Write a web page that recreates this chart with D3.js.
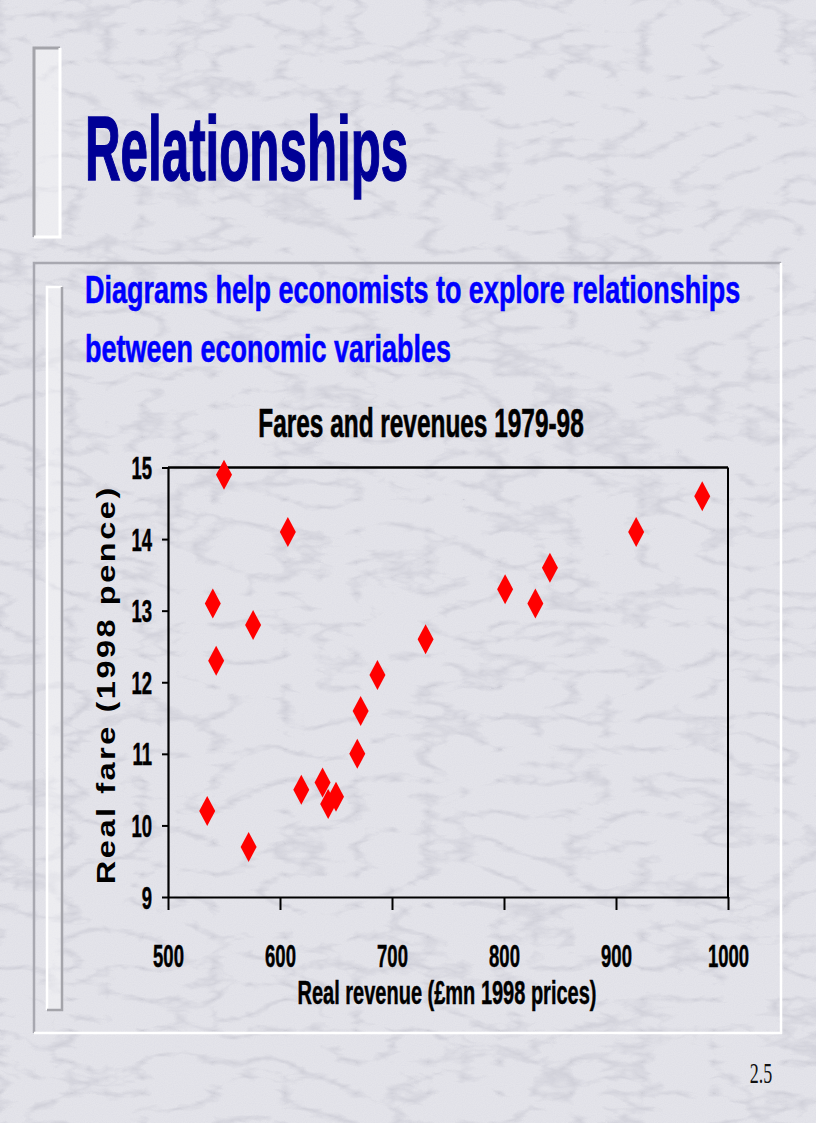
<!DOCTYPE html>
<html>
<head>
<meta charset="utf-8">
<script src="https://cdn.jsdelivr.net/npm/d3@7"></script>
<style>
  html, body { margin: 0; padding: 0; background: #e4e4ea; }
  svg { display: block; }
</style>
</head>
<body>
<svg id="slide" width="816" height="1123"></svg>
<script>
// ---- data ----
const revenue = [550, 607, 540, 576, 543, 687, 672, 669, 619, 638, 643, 650, 535, 572, 977, 918, 841, 801, 828, 730];
const fare    = [14.9, 14.1, 13.1, 12.8, 12.3, 12.1, 11.6, 11.0, 10.5, 10.6, 10.3, 10.4, 10.2, 9.7, 14.6, 14.1, 13.6, 13.3, 13.1, 12.6];
const xTicks = [500, 600, 700, 800, 900, 1000];
const yTicks = [9, 10, 11, 12, 13, 14, 15];
const titleText = "Relationships";
const subtitleLines = ["Diagrams help economists to explore relationships", "between economic variables"];
const chartTitle = "Fares and revenues 1979-98";
const xLabel = "Real revenue (£mn 1998 prices)";
const yLabel = "Real fare (1998 pence)";
const pageNo = "2.5";

const svg = d3.select("#slide");
const FONT = "'Liberation Sans', Arial, sans-serif";

// ---- marble background ----
const defs = svg.append("defs");
const f = defs.append("filter").attr("id", "marble")
  .attr("x", 0).attr("y", 0).attr("width", "100%").attr("height", "100%");
f.append("feTurbulence").attr("type", "turbulence")
  .attr("baseFrequency", "0.014 0.032").attr("numOctaves", 4).attr("seed", 7).attr("result", "t");
f.append("feColorMatrix").attr("in", "t").attr("type", "matrix")
  .attr("values", "0 0 0 0 0.52  0 0 0 0 0.52  0 0 0 0 0.58  -2.4 0 0 0 0.62");
const f2 = defs.append("filter").attr("id", "grain")
  .attr("x", 0).attr("y", 0).attr("width", "100%").attr("height", "100%");
f2.append("feTurbulence").attr("type", "fractalNoise")
  .attr("baseFrequency", "0.9").attr("numOctaves", 1).attr("seed", 2).attr("result", "n");
f2.append("feColorMatrix").attr("in", "n").attr("type", "matrix")
  .attr("values", "0 0 0 0 0.6  0 0 0 0 0.6  0 0 0 0 0.7  0.9 0 0 0 -0.3");

svg.append("rect").attr("width", 816).attr("height", 1123).attr("fill", "#e4e4ea");
svg.append("rect").attr("width", 816).attr("height", 1123).attr("filter", "url(#marble)").attr("opacity", 0.9);
svg.append("rect").attr("width", 816).attr("height", 1123).attr("filter", "url(#grain)").attr("opacity", 0.45);

// ---- bevel frames ----
function bevel(x0, y0, x1, y1, tl, br, fill, w) {
  const g = svg.append("g");
  if (fill) g.append("rect").attr("x", x0).attr("y", y0).attr("width", x1 - x0).attr("height", y1 - y0).attr("fill", fill);
  g.append("path").attr("d", `M${x0},${y1}L${x0},${y0}L${x1},${y0}`).attr("fill", "none").attr("stroke", tl).attr("stroke-width", w);
  g.append("path").attr("d", `M${x1},${y0}L${x1},${y1}L${x0},${y1}`).attr("fill", "none").attr("stroke", br).attr("stroke-width", w);
}
bevel(34, 48, 60, 237, "#a4a4aa", "#ffffff", "rgba(255,255,255,0.35)", 3);
bevel(34, 263, 781, 1033, "#a8a8b0", "#ffffff", null, 2.5);
bevel(47, 287, 62, 1010, "#ffffff", "#a4a4aa", "rgba(255,255,255,0.35)", 2.5);

// ---- stretched text helper ----
function stext(parent, txt, x, y, fs, ky, anchor, fill, family, weight, sw) {
  const t = parent.append("text")
    .attr("transform", `translate(${x},${y}) scale(1,${ky})`)
    .attr("font-family", family || FONT)
    .attr("font-weight", weight || "bold")
    .attr("font-size", fs)
    .attr("text-anchor", anchor || "start")
    .attr("fill", fill || "#000")
    .text(txt);
  if (sw) t.attr("stroke", fill || "#000").attr("stroke-width", sw);
  return t;
}

stext(svg, titleText, 85, 180, 49.3, 1.84, "start", "#000096", null, null, 0.8);
subtitleLines.forEach((s, i) => stext(svg, s, 85, 303 + i * 59, 27, 1.46, "start", "#0000ff", null, null, 0.4));
stext(svg, chartTitle, 421, 437, 24.4, 1.68, "middle", "#000", null, null, 0.4);

// ---- chart ----
const x = d3.scaleLinear().domain([500, 1000]).range([168, 728]);
const y = d3.scaleLinear().domain([9, 15]).range([897, 467.5]);

const gx = svg.append("g").attr("transform", `translate(0,${y(9)})`)
  .call(d3.axisBottom(x).tickValues(xTicks).tickSize(13).tickSizeOuter(0).tickFormat(d3.format("d")));
const gy = svg.append("g").attr("transform", `translate(${x(500)},0)`)
  .call(d3.axisLeft(y).tickValues(yTicks).tickSize(6).tickSizeOuter(0).tickFormat(d3.format("d")));

[gx, gy].forEach(g => {
  g.attr("font-family", null).attr("font-size", null);
  g.select(".domain").attr("stroke", "#000").attr("stroke-width", 2.2);
  g.selectAll(".tick line").attr("stroke", "#000").attr("stroke-width", 2);
});
gx.selectAll(".tick text")
  .attr("y", null).attr("dy", null)
  .attr("transform", "translate(0,70) scale(1,1.66)")
  .attr("font-family", FONT).attr("font-weight", "bold").attr("font-size", 18.5)
  .attr("fill", "#000").attr("stroke", "#000").attr("stroke-width", 0.3);
gy.selectAll(".tick text")
  .attr("x", null).attr("dy", null)
  .attr("transform", "translate(-16,11) scale(1,1.66)")
  .attr("font-family", FONT).attr("font-weight", "bold").attr("font-size", 18.5)
  .attr("fill", "#000").attr("text-anchor", "end").attr("stroke", "#000").attr("stroke-width", 0.3);

// top and right frame lines
svg.append("line").attr("x1", x(500)).attr("x2", x(1000)).attr("y1", y(15)).attr("y2", y(15))
  .attr("stroke", "#000").attr("stroke-width", 2.5);
svg.append("line").attr("x1", x(1000)).attr("x2", x(1000)).attr("y1", y(15)).attr("y2", y(9))
  .attr("stroke", "#000").attr("stroke-width", 2);

// axis titles
stext(svg, xLabel, 447, 1004, 20, 1.67, "middle", "#000", null, null, 0.3);
svg.append("text")
  .attr("transform", `translate(115,686) rotate(-90) scale(1.3,1)`)
  .attr("font-family", FONT).attr("font-weight", "bold").attr("font-size", 25)
  .attr("text-anchor", "middle").attr("fill", "#000")
  .attr("textLength", 305).attr("lengthAdjust", "spacing")
  .text(yLabel);

// points
const pts = revenue.map((r, i) => ({ r, f: fare[i] }));
svg.append("g").selectAll("path").data(pts).join("path")
  .attr("transform", d => `translate(${x(d.r)},${y(d.f)})`)
  .attr("d", "M0,-15L8,0L0,15L-8,0Z")
  .attr("fill", "#ff0000");

// page number
stext(svg, pageNo, 761, 1083, 18, 1.68, "middle", "#111", "'Liberation Serif', 'Times New Roman', serif", "normal");
</script>
</body>
</html>
